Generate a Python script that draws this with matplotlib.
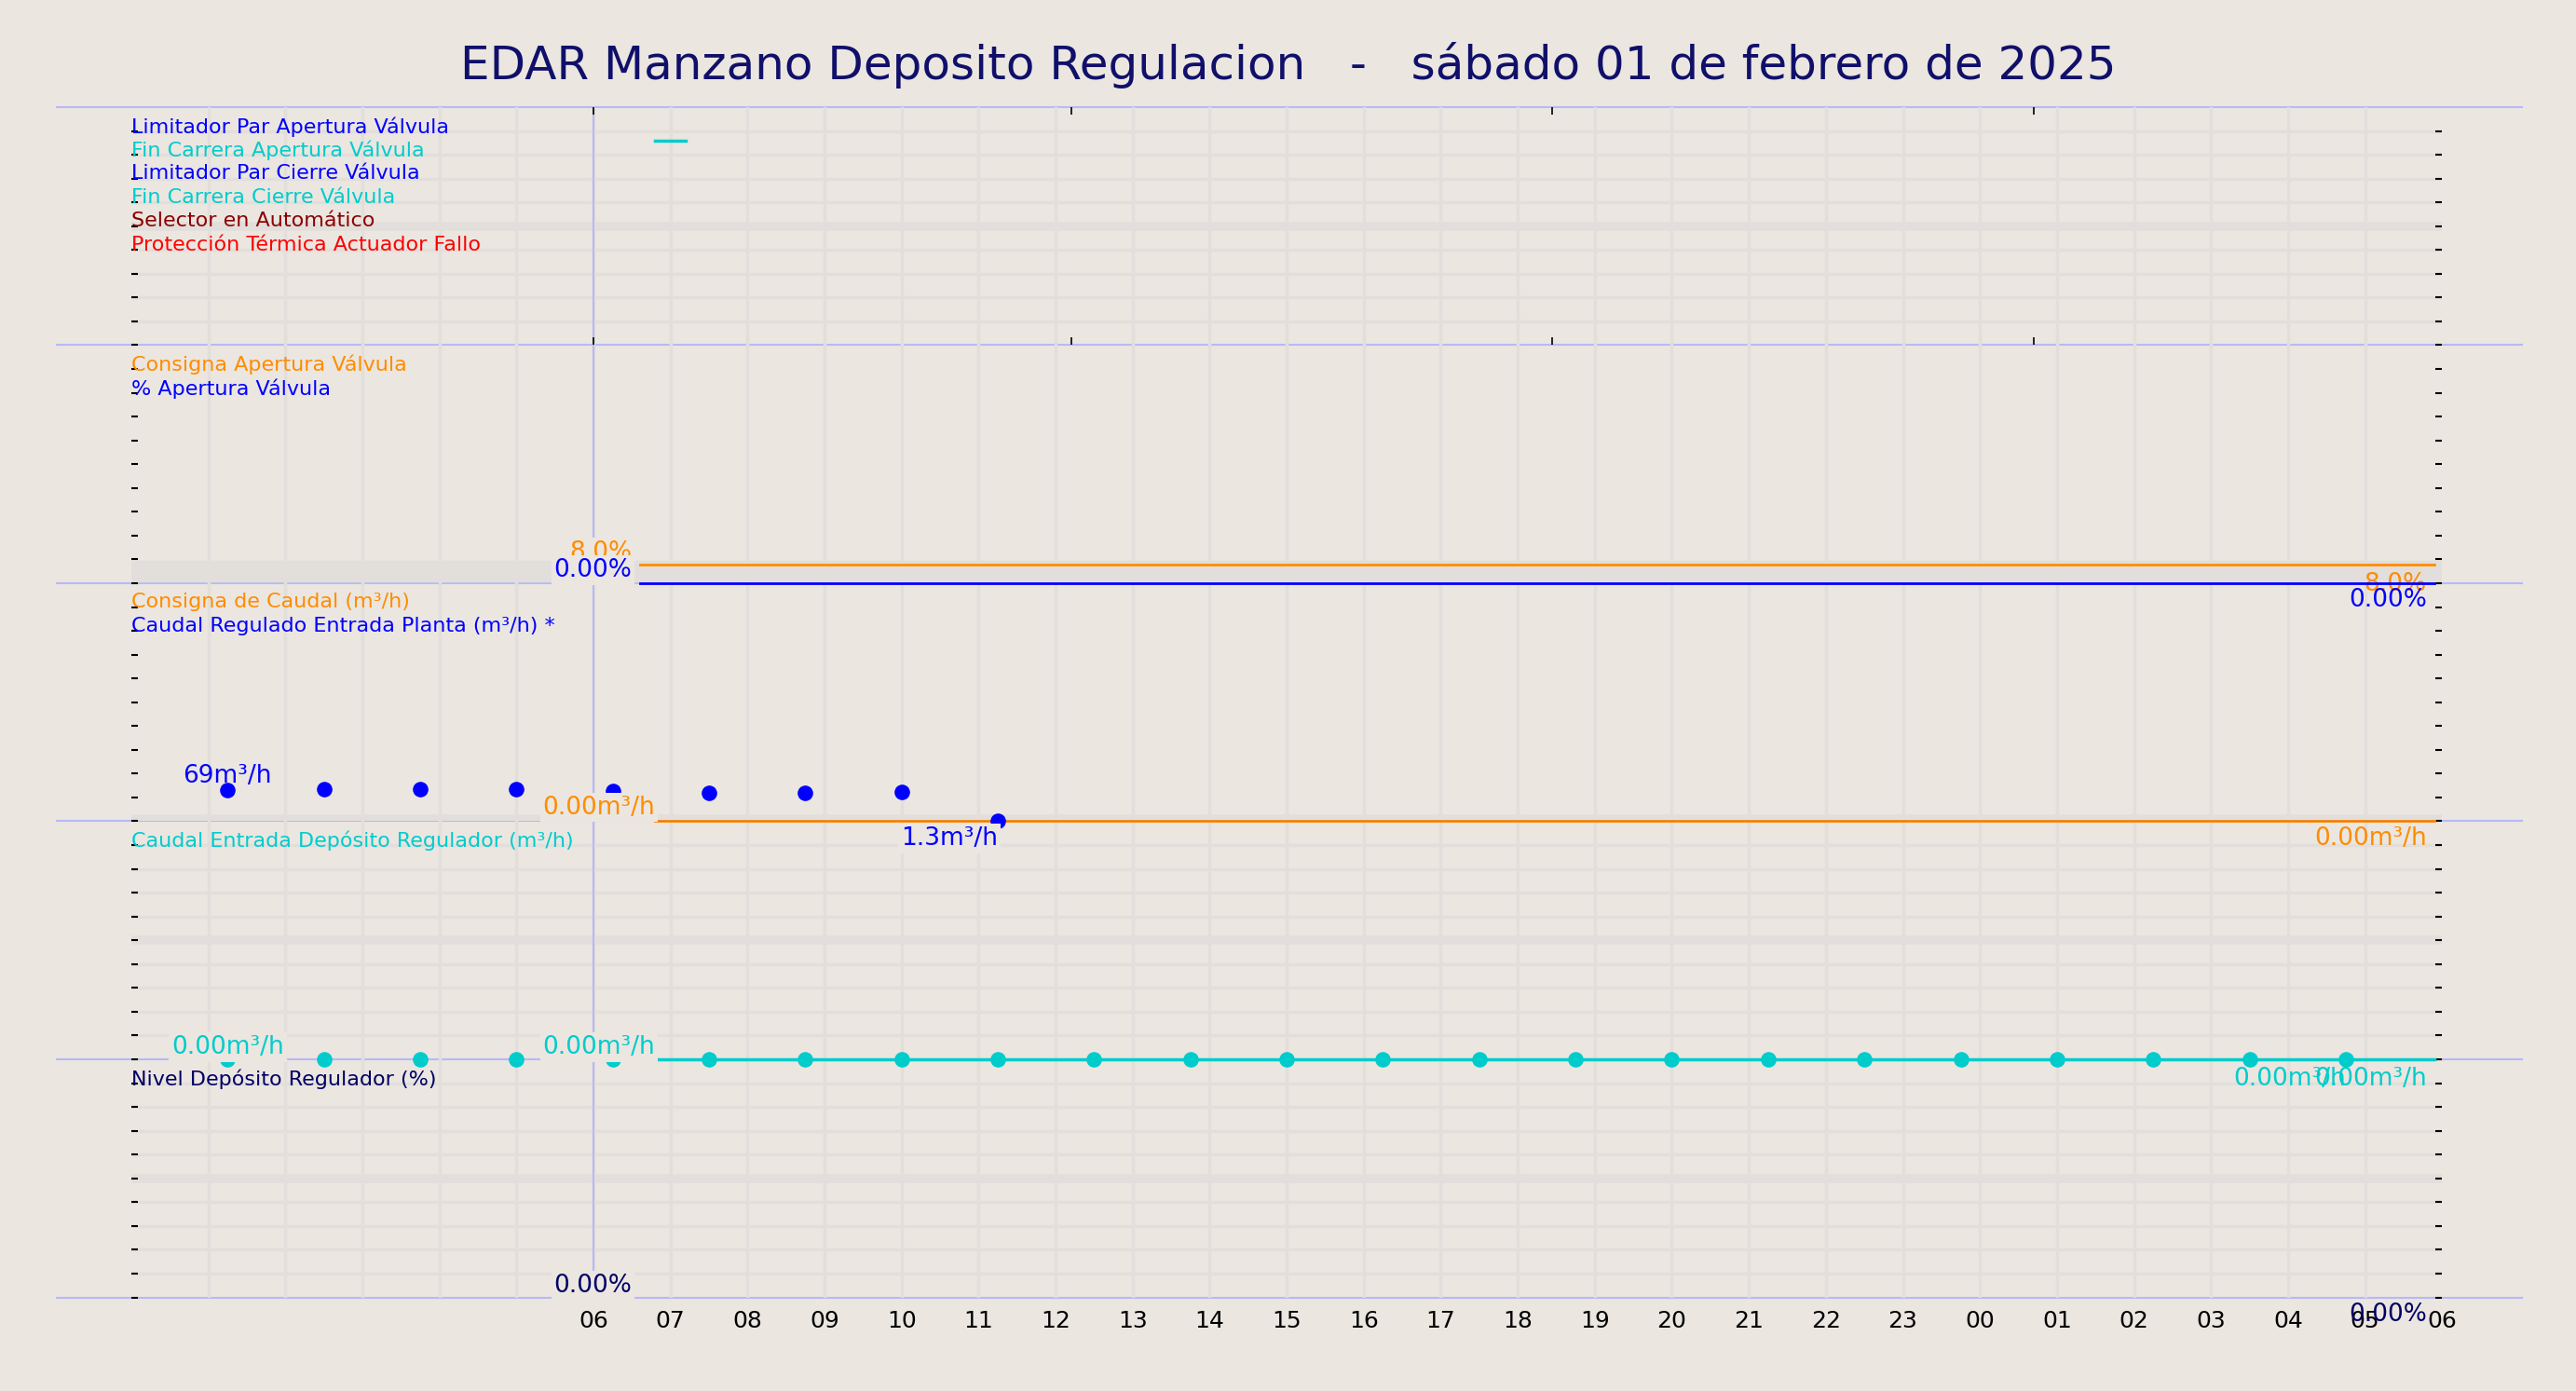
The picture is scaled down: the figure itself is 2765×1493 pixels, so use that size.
import matplotlib
matplotlib.use("Agg")
import matplotlib.pyplot as plt
from matplotlib.lines import Line2D
import numpy as np

BG = "#ebe6e0"
TITLE = "EDAR Manzano Deposito Regulacion   -   sábado 01 de febrero de 2025"

hour_ticks = list(range(6, 31))
hour_labels = ["%02d" % (h % 24) for h in hour_ticks]

# panel 1: digital signals
sig_names = ["Limitador Par Apertura Válvula", "Fin Carrera Apertura Válvula",
             "Limitador Par Cierre Válvula", "Fin Carrera Cierre Válvula",
             "Selector en Automático", "Protección Térmica Actuador Fallo"]
sig_colors = ["#0000ff", "#00cccc", "#0000ff", "#00cccc", "#8b0000", "#ff0000"]
fc_ap_x = [6.8, 7.2]
fc_ap_y = [8.6, 8.6]

# panel 2: valve %
valve_x = [6.6, 29.9]
consigna_valve = [8.0, 8.0]
apertura_valve = [0.0, 0.0]

# panel 3: caudal regulado
caudal_x = [1.25, 2.5, 3.75, 5.0, 6.25, 7.5, 8.75, 10.0, 11.25]
caudal_y = [69, 70, 70, 70, 66, 63, 62, 65, 1.3]
consigna_caudal_x = [6.8, 29.9]
consigna_caudal_y = [0.0, 0.0]

# panel 4: caudal entrada deposito
entrada_x = [1.25 * i for i in range(1, 24)]
entrada_y = [0.0] * len(entrada_x)
entrada_line_x = [6.8, 29.9]
entrada_line_y = [0.0, 0.0]

fig = plt.figure(figsize=(27.65, 14.93), dpi=100, facecolor=BG)
L, R, T, B = 0.051, 0.948, 0.923, 0.0673
H = (T - B) / 5
axes = []
for i in range(5):
    ax = fig.add_axes([L, T - (i + 1) * H, R - L, H], zorder=10 - i)
    ax.patch.set_visible(False)
    ax.set_xlim(0, 30)
    ax.set_ylim(0, 10)
    for s in ax.spines.values():
        s.set_visible(False)
    for h in range(1, 30):
        ax.axvline(h, color="#e2dedb", lw=2.5, zorder=0)
    for k in range(1, 10):
        ax.axhline(k, color="#e2dedb", lw=7 if k == 5 else 2.5, zorder=0)
    ax.axvline(6, color="#b8b8f8", lw=1.5, zorder=1)
    ax.set_yticks(np.arange(0, 10, 1))
    ax.tick_params(axis="y", which="both", left=True, right=True, direction="in",
                   labelleft=False, length=5, width=1.5)
    ax.set_xticks(hour_ticks)
    ax.tick_params(axis="x", length=0, labelbottom=False)
    axes.append(ax)

lab = dict(fontsize=16, ha="left", va="top")
def put_labels(ax, names, colors, step):
    for j, (n, c) in enumerate(zip(names, colors)):
        ax.text(0.0, (9.6 - j * 1.0) * step, n, color=c, **lab)

bbox = dict(facecolor=BG, edgecolor="none", pad=2)
FS = 19

# panel 1
ax = axes[0]
put_labels(ax, sig_names, sig_colors, 1)
ax.plot(fc_ap_x, fc_ap_y, color="#00cccc", lw=2.5)

# panel 2
ax = axes[1]
ax.set_ylim(0, 100)
ax.set_yticks(np.arange(0, 100, 10))
put_labels(ax, ["Consigna Apertura Válvula", "% Apertura Válvula"], ["#ff8c00", "#0000ff"], 10)
ax.plot(valve_x, consigna_valve, color="#ff8c00", lw=2, clip_on=False)
ax.plot(valve_x, apertura_valve, color="#0000ff", lw=2, clip_on=False, zorder=5)
ax.text(6.5, 8.0, "8.0%", color="#ff8c00", fontsize=FS, ha="right", va="bottom", bbox=bbox)
ax.text(6.5, 0.5, "0.00%", color="#0000ff", fontsize=FS, ha="right", va="bottom", bbox=bbox)
ax.text(29.8, 4.5, "8.0%", color="#ff8c00", fontsize=FS, ha="right", va="top")
ax.text(29.8, -2.0, "0.00%", color="#0000ff", fontsize=FS, ha="right", va="top")

# panel 3
ax = axes[2]
ax.set_ylim(0, 520)
ax.set_yticks(np.arange(0, 520, 52))
put_labels(ax, ["Consigna de Caudal (m³/h)", "Caudal Regulado Entrada Planta (m³/h) *"],
           ["#ff8c00", "#0000ff"], 52)
ax.scatter(caudal_x, caudal_y, color="#0000ff", s=120, zorder=3, clip_on=False)
ax.plot(consigna_caudal_x, consigna_caudal_y, color="#ff8c00", lw=2, clip_on=False)
ax.plot(consigna_caudal_x, consigna_caudal_y, color="#cc6666", lw=1, alpha=0.5, clip_on=False)
ax.text(1.25, 72, "69m³/h", color="#0000ff", fontsize=FS, ha="center", va="bottom")
ax.text(6.8, 4, "0.00m³/h", color="#ff8c00", fontsize=FS, ha="right", va="bottom", bbox=bbox)
ax.text(11.25, -12, "1.3m³/h", color="#0000ff", fontsize=FS, ha="right", va="top", bbox=bbox)
ax.text(29.8, -12, "0.00m³/h", color="#ff8c00", fontsize=FS, ha="right", va="top")

# panel 4
ax = axes[3]
put_labels(ax, ["Caudal Entrada Depósito Regulador (m³/h)"], ["#00cccc"], 1)
ax.scatter(entrada_x, entrada_y, color="#00cccc", s=120, zorder=3, clip_on=False)
ax.plot(entrada_line_x, entrada_line_y, color="#00cccc", lw=2.5, clip_on=False)
ax.text(1.25, 0.0, "0.00m³/h", color="#00cccc", fontsize=FS, ha="center", va="bottom", bbox=bbox)
ax.text(6.8, 0.0, "0.00m³/h", color="#00cccc", fontsize=FS, ha="right", va="bottom", bbox=bbox)
ax.text(28.75, -0.3, "0.00m³/h", color="#00cccc", fontsize=FS, ha="right", va="top", zorder=6)
ax.text(29.8, -0.3, "0.00m³/h", color="#00cccc", fontsize=FS, ha="right", va="top", zorder=7)

# panel 5
ax = axes[4]
put_labels(ax, ["Nivel Depósito Regulador (%)"], ["#000066"], 1)
ax.text(6.5, 0.0, "0.00%", color="#000066", fontsize=FS, ha="right", va="bottom", bbox=bbox)
ax.text(29.8, -0.2, "0.00%", color="#000066", fontsize=FS, ha="right", va="top")
ax.tick_params(axis="x", labelbottom=True, labelsize=18, pad=10)
ax.set_xticklabels(hour_labels)

# top ticks on first panel
axes[0].tick_params(axis="x", top=True, length=6, direction="in", width=1.2)
axes[0].set_xticks([6, 12.2, 18.45, 24.7])

# panel boundary lines
for i in range(6):
    y = T - i * H
    fig.add_artist(Line2D([0.022, 0.979], [y, y], color="#b8b8f8", lw=1.5, zorder=0))

fig.suptitle(TITLE, fontsize=36, color="#10106a", y=0.97)
fig.savefig("out.png", dpi=100, facecolor=BG)
